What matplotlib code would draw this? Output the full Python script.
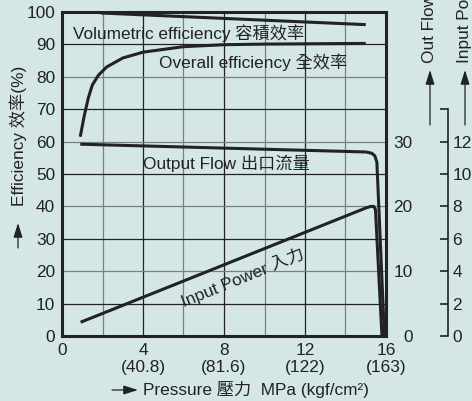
import matplotlib
matplotlib.use("Agg")
import matplotlib.pyplot as plt

plt.rcParams['font.family'] = ['Liberation Sans', 'Noto Sans CJK TC', 'DejaVu Sans']
plt.rcParams['font.size'] = 12.4

# data (pressure in MPa)
vol_p = [1.9, 15.0]
vol_eff = [99.7, 96.1]

ovr_p = [0.9, 1.1, 1.3, 1.5, 1.8, 2.2, 3.0, 4.0, 6.0, 8.0, 10.0, 15.0]
ovr_eff = [61.5, 68.0, 73.5, 77.5, 80.5, 83.0, 85.8, 87.6, 89.3, 89.9, 90.1, 90.3]

flow_p = [0.9, 15.0, 15.3, 15.45, 15.55, 15.92]
flow_lpm = [29.6, 28.4, 28.2, 27.8, 26.8, 0.0]

pow_p = [0.92, 15.0, 15.25, 15.4, 15.48, 15.8]
pow_kw = [0.85, 7.9, 8.0, 8.0, 7.8, 0.0]

x_ticks = [0, 4, 8, 12, 16]
x_labels = ["0", "4\n(40.8)", "8\n(81.6)", "12\n(122)", "16\n(163)"]
eff_ticks = list(range(0, 101, 10))
flow_ticks = [0, 10, 20, 30]
pow_ticks = [0, 2, 4, 6, 8, 10, 12, 14]
pow_labels = ["0", "2", "4", "6", "8", "10", "12", ""]

bg = '#d5e6e6'
ink = '#222222'

fig = plt.figure(figsize=(4.72, 4.01), dpi=100, facecolor=bg)
ax = fig.add_axes([62 / 472, 1 - 336 / 401, 324 / 472, 324 / 401])
ax.set_facecolor(bg)
ax.set_xlim(0, 16)
ax.set_ylim(0, 100)

# grid, alternating dark / grey lines
for v in range(2, 16, 2):
    ax.axvline(v, color=ink if v % 4 == 0 else '#7a7f7f', lw=0.9, zorder=1)
for v in range(10, 100, 10):
    ax.axhline(v, color=ink if v % 20 else '#7a7f7f', lw=0.9, zorder=1)

for s in ax.spines.values():
    s.set_linewidth(2.2)
    s.set_color(ink)

ax.set_xticks(x_ticks)
ax.set_xticklabels(x_labels, color=ink)
ax.set_yticks(eff_ticks)
ax.set_yticklabels([str(t) for t in eff_ticks], color=ink)
ax.tick_params(length=0, pad=5)

ax.plot(vol_p, vol_eff, color=ink, lw=2.2, solid_capstyle='butt', zorder=3)
ax.plot(ovr_p, ovr_eff, color=ink, lw=2.2, solid_capstyle='butt', zorder=3)

# output flow axis (L/min)
ax_f = ax.twinx()
ax_f.set_ylim(0, 50)
ax_f.set_yticks(flow_ticks)
ax_f.set_yticklabels([str(t) for t in flow_ticks], color=ink, ha='right')
ax_f.tick_params(length=0, pad=19)
for s in ax_f.spines.values():
    s.set_visible(False)
ax_f.plot(flow_p, flow_lpm, color=ink, lw=2.2, solid_capstyle='butt', zorder=3)

# input power axis (kW)
ax_p = ax.twinx()
ax_p.set_ylim(0, 20)
for k, s in ax_p.spines.items():
    s.set_visible(k == 'right')
ax_p.spines['right'].set_position(('outward', 62 * 0.72))
ax_p.spines['right'].set_bounds(0, 14)
ax_p.spines['right'].set_linewidth(1.2)
ax_p.spines['right'].set_color(ink)
ax_p.set_yticks(pow_ticks)
ax_p.set_yticklabels(pow_labels, color=ink)
ax_p.tick_params(direction='in', length=6, width=1.2, color=ink, pad=3)
ax_p.plot(pow_p, pow_kw, color=ink, lw=2.2, solid_capstyle='butt', zorder=3)

# curve labels
ax.text(0.55, 93.6, "Volumetric efficiency 容積效率", color=ink, va='center', zorder=4)
ax.text(4.8, 84.5, "Overall efficiency 全效率", color=ink, va='center', zorder=4)
ax.text(4.0, 53.4, "Output Flow 出口流量", color=ink, va='center', zorder=4)
ax.text(8.9, 18.2, "Input Power 入力", color=ink, ha='center', va='center',
        rotation=22, zorder=4)

# axis titles with arrows
arw = dict(arrowstyle='-|>,head_length=0.7,head_width=0.22', color=ink, lw=0.9,
           shrinkA=0, shrinkB=0)
ax.annotate("", xy=(18, 178), xytext=(18, 153), xycoords='figure pixels',
            textcoords='figure pixels', arrowprops=arw)
fig.text(18 / 472, 265 / 401, "Efficiency 效率(%)", rotation=90, ha='center',
         va='center', color=ink)

ax.annotate("", xy=(138, 11), xytext=(112, 11), xycoords='figure pixels',
            textcoords='figure pixels', arrowprops=arw)
fig.text(143 / 472, 11 / 401, "Pressure 壓力  MPa (kgf/cm²)", ha='left',
         va='center', color=ink)

# right-hand axis titles run off the top edge, as in the source picture
for xp, label in [(430, "Out Flow"), (465, "Input Power")]:
    ax.annotate("", xy=(xp, 331), xytext=(xp, 276), xycoords='figure pixels',
                textcoords='figure pixels', arrowprops=arw)
    fig.text(xp / 472, 338 / 401, label, rotation=90, ha='center', va='bottom',
             color=ink)

fig.savefig("out.png", dpi=100, facecolor=bg)
